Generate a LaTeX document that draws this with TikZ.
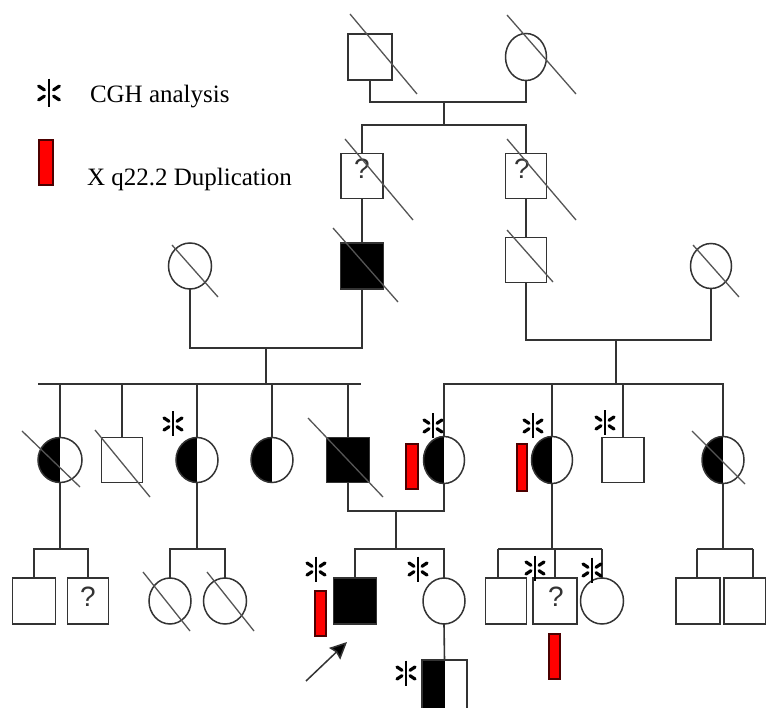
\documentclass[tikz,border=0pt]{standalone}
\usepackage{fontspec}
\setmainfont{Liberation Serif}
\newfontfamily\qfont{Liberation Sans}
\usetikzlibrary{shapes.geometric,arrows.meta}
\definecolor{ln}{HTML}{333333}
\definecolor{sl}{HTML}{555555}
\definecolor{dupred}{HTML}{FF0000}
\begin{document}
\begin{tikzpicture}[x=1pt,y=-1pt,
 every node/.style={inner sep=0pt, outer sep=0pt},
 shp/.style={draw=ln, line width=1.5pt, fill=white},
 male/.style={shp, rectangle, minimum width=43pt, minimum height=46pt},
 female/.style={shp, ellipse, minimum width=42pt, minimum height=46pt},
 aff/.style={fill=black},
 half/.style={path picture={\fill[black] (path picture bounding box.south west) rectangle (path picture bounding box.north);}},
 conn/.style={draw=ln, line width=1.6pt},
 slash/.style={draw=sl, line width=1.3pt},
 dup/.style={fill=dupred, draw=black!70!red, line width=1.2pt},
 qmark/.style={font=\qfont\fontsize{28}{28}\selectfont, text=ln},
 legtext/.style={font=\fontsize{25}{25}\selectfont, anchor=base west},
 cgh/.pic={\draw[line width=1.6pt, black] (0,-12.5)--(0,12.5);
   \foreach \sx/\sy in {1/1,1/-1,-1/1,-1/-1}
     \draw[line width=3.2pt, line cap=round, black] (4*\sx,2.7*\sy)--(9*\sx,6*\sy);}
]
\useasboundingbox (0,0) rectangle (766,708);
\clip (0,0) rectangle (766,708);
\fill[white] (0,0) rectangle (766,708);

% ---------- legend ----------
\pic[scale=1.15] at (49,93) {cgh};
\node[legtext] (t1) at (90,103) {CGH analysis};
\draw[dup] (39,140) rectangle (53,185);
\node[legtext] (t2) at (87,186) {X q22.2 Duplication};

% ---------- generation I ----------
\node[male, minimum width=44pt] (I1) at (370,57) {};
\node[female, minimum width=41pt, minimum height=47pt] (I2) at (526,57) {};

% ---------- generation II ----------
\node[male, minimum width=42pt, minimum height=45pt] (II1) at (362,176) {};
\node[qmark] (q1) at (362,169) {?};
\node[male, minimum width=41pt, minimum height=45pt] (II2) at (526,176) {};
\node[qmark] (q2) at (522,169) {?};

% ---------- generation III ----------
\node[female, minimum width=43pt] (III1) at (190,266) {};
\node[male, aff] (III2) at (362,266) {};
\node[male, minimum width=41pt, minimum height=45pt] (III3) at (526,260) {};
\node[female, minimum width=41pt, minimum height=45pt] (III4) at (711,266) {};

% ---------- generation IV ----------
\node[female, half, minimum width=44pt, minimum height=45pt] (IV1) at (60,460) {};
\node[male, minimum width=41pt, minimum height=45pt] (IV2) at (122,460) {};
\node[female, half, minimum height=45pt] (IV3) at (197,460) {};
\node[female, half, minimum height=45pt] (IV4) at (272,460) {};
\node[male, aff, minimum height=45pt] (IV5) at (348,460) {};
\node[female, half, minimum width=41pt, minimum height=47pt] (IV6) at (444,460) {};
\node[female, half, minimum width=41pt, minimum height=47pt] (IV7) at (552,460) {};
\node[male, minimum width=42pt, minimum height=45pt] (IV8) at (623,460) {};
\node[female, half, minimum height=47pt] (IV9) at (723,460) {};

% ---------- generation V ----------
\node[male] (V1) at (34,601) {};
\node[male, minimum width=41pt] (V2) at (88,601) {};
\node[qmark] (q3) at (88,597) {?};
\node[female] (V3) at (170,601) {};
\node[female, minimum width=43pt] (V4) at (225,601) {};
\node[male, aff] (V5) at (355,601) {};
\node[female] (V6) at (444,601) {};
\node[male, minimum width=41pt] (V7) at (506,601) {};
\node[male, minimum width=44pt] (V8) at (555,601) {};
\node[qmark] (q4) at (556,597) {?};
\node[female, minimum width=43pt] (V9) at (602,601) {};
\node[male, minimum width=44pt] (V10) at (698,601) {};
\node[male, minimum width=42pt] (V11) at (745,601) {};

% ---------- generation VI ----------
\node[male, half, minimum width=45pt, minimum height=60pt] (VI1) at (444.5,690) {};

% ---------- connectors ----------
\coordinate (m1) at (444,102); \coordinate (s1) at (444,125);
\draw[conn] (I1.south) |- (m1) -| (I2.south);
\draw[conn] (m1) -- (s1);
\draw[conn] (II1.north) |- (s1) -| (II2.north);
\draw[conn] (II1.south) -- (III2.north);
\draw[conn] (II2.south) -- (III3.north);

\coordinate (m2) at (266,348); \coordinate (s2) at (266,384);
\coordinate (s2a) at (38,384); \coordinate (s2b) at (361,384);
\draw[conn] (III1.south) |- (m2) -| (III2.south);
\draw[conn] (m2) -- (s2);
\draw[conn] (s2a) -- (s2b);
\foreach \n in {IV1,IV2,IV3,IV4,IV5} \draw[conn] (\n.north) -- (\n.north |- s2);

\coordinate (m3) at (616,340); \coordinate (s3) at (616,384);
\draw[conn] (III3.south) |- (m3) -| (III4.south);
\draw[conn] (m3) -- (s3);
\draw[conn] (IV6.north) |- (s3) -| (IV9.north);
\draw[conn] (IV7.north) -- (IV7.north |- s3);
\draw[conn] (IV8.north) -- (IV8.north |- s3);

\coordinate (m4) at (396,511); \coordinate (s4) at (396,549);
\draw[conn] (IV5.south) |- (m4) -| (IV6.south);
\draw[conn] (m4) -- (s4);
\draw[conn] (V5.north) |- (s4) -| (V6.north);
\draw[conn] (V6.south) -- (VI1.north);

\coordinate (s5) at (60,549);
\draw[conn] (IV1.south) -- (s5);
\draw[conn] (V1.north) |- (s5) -| (V2.north);

\coordinate (s6) at (197,549);
\draw[conn] (IV3.south) -- (s6);
\draw[conn] (V3.north) |- (s6) -| (V4.north);

\coordinate (s7) at (552,549); \coordinate (s7l) at (498,549); \coordinate (s7r) at (602,549);
\draw[conn] (IV7.south) -- (s7);
\draw[conn] (s7l) -- (s7r);
\draw[conn] (s7l) -- (s7l |- V7.north);
\draw[conn] (V8.north) -- (V8.north |- s7);
\draw[conn] (V9.north) -- (V9.north |- s7);

\coordinate (s8) at (723,549); \coordinate (s8l) at (697,549); \coordinate (s8r) at (753,549);
\draw[conn] (IV9.south) -- (s8);
\draw[conn] (s8l) -- (s8r);
\draw[conn] (s8l) -- (s8l |- V10.north);
\draw[conn] (s8r) -- (s8r |- V11.north);

% ---------- deceased slashes ----------
\draw[slash] (350,14) -- (417,94);
\draw[slash] (507,15) -- (576,94);
\draw[slash] (345,139) -- (413,220);
\draw[slash] (507,139) -- (576,220);
\draw[slash] (172,245) -- (218,297);
\draw[slash] (333,228) -- (398,302);
\draw[slash] (507,230) -- (553,282);
\draw[slash] (693,245) -- (739,297);
\draw[slash] (22,431) -- (80,487);
\draw[slash] (95,430) -- (150,497);
\draw[slash] (308,418) -- (383,497);
\draw[slash] (692,431) -- (745,484);
\draw[slash] (143,572) -- (190,631);
\draw[slash] (207,572) -- (254,631);

% ---------- CGH marks ----------
\pic at (173,424) {cgh};
\pic at (433,426) {cgh};
\pic at (533,426) {cgh};
\pic at (605,423) {cgh};
\pic at (316,569) {cgh};
\pic at (418,569) {cgh};
\pic at (535,568) {cgh};
\pic at (592,570) {cgh};
\pic at (406,673) {cgh};

% ---------- duplication bars ----------
\draw[dup] (406,444) rectangle (418,489);
\draw[dup] (517,444) rectangle (527,491);
\draw[dup] (315,591) rectangle (326,636);
\draw[dup] (549,634) rectangle (560,679);

% ---------- proband arrow ----------
\coordinate (arrtail) at (306,681);
\coordinate (arrtip) at (347,642);
\draw[ln, line width=1.5pt, -{Stealth[length=17pt,width=16pt,inset=2pt,fill=black]}] (arrtail) -- (arrtip);
\end{tikzpicture}
\end{document}
